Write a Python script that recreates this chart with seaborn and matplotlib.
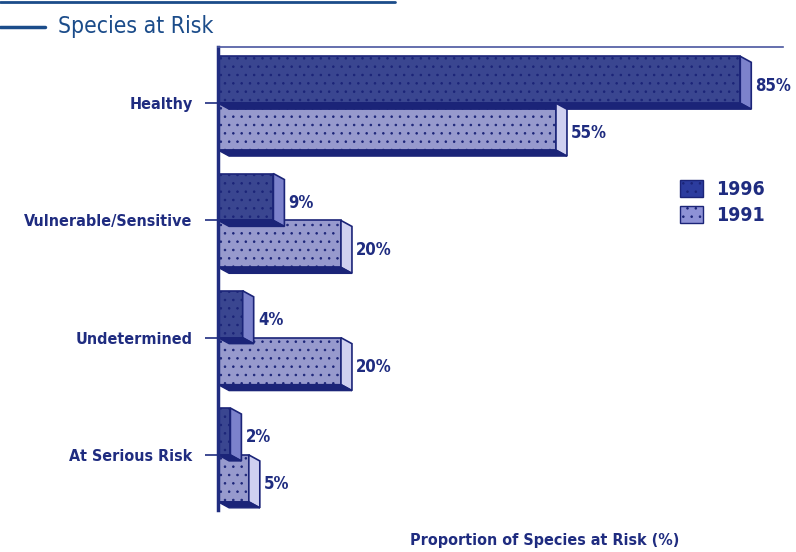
import matplotlib
matplotlib.use("Agg")
import matplotlib.pyplot as plt
from matplotlib.patches import Polygon, Patch
from matplotlib.lines import Line2D
from matplotlib import font_manager
import seaborn as sns
import pandas as pd

categories = ["Healthy", "Vulnerable/Sensitive", "Undetermined", "At Serious Risk"]
years = ["1996", "1991"]
pct_1996 = [85, 9, 4, 2]
pct_1991 = [55, 20, 20, 5]

NAVY = "#1f2c80"
TITLE_BLUE = "#1b4c8a"
DARK = "#2c3c9e"
LIGHT = "#8e92d6"
DARK_SIDE = "#7c82cc"
LIGHT_SIDE = "#cfd0f0"
EDGE = "#1b2478"

sns.set_theme(style="white")
names = {f.name for f in font_manager.fontManager.ttflist}
narrow = [n for n in ["Liberation Sans Narrow", "DejaVu Sans"] if n in names]
plt.rcParams["font.family"] = narrow + ["DejaVu Sans"]
plt.rcParams["font.stretch"] = "condensed"
plt.rcParams["hatch.linewidth"] = 0.6

df = pd.DataFrame({
    "status": categories * 2,
    "pct": pct_1996 + pct_1991,
    "year": [years[0]] * len(categories) + [years[1]] * len(categories),
})

fig = plt.figure(figsize=(7.96, 5.52), dpi=100)
ax = fig.add_axes([0.274, 0.076, 0.71, 0.839])

sns.barplot(data=df, y="status", x="pct", hue="year", hue_order=years,
            order=categories, palette=[DARK, LIGHT], orient="h", width=0.8,
            edgecolor=EDGE, linewidth=1.2, legend=False, ax=ax)

ax.set_xlim(0, 92)
ax.set_ylim(3.47, -0.48)

fig.canvas.draw()
p0 = ax.transData.transform((0, 0))
p1 = ax.transData.transform((1, 1))
ppx = p1[0] - p0[0]
ppy = abs(p1[1] - p0[1])
dx = 11 / ppx
dy = 6 / ppy

bars = [p for p in ax.patches if p.get_width() > 0]
for bar in bars:
    x0 = bar.get_x()
    y0 = bar.get_y()
    w = bar.get_width()
    h = bar.get_height()
    x1 = x0 + w
    ytop, ybot = min(y0, y0 + h), max(y0, y0 + h)
    fc = bar.get_facecolor()
    side_col = DARK_SIDE if fc[0] < 0.3 else LIGHT_SIDE
    bar.set_hatch("..")
    # right-hand face of the extruded bar
    ax.add_patch(Polygon([(x1, ytop), (x1 + dx, ytop + dy), (x1 + dx, ybot + dy), (x1, ybot)],
                         closed=True, facecolor=side_col, edgecolor=EDGE, lw=1.2, zorder=1))
    # lower face of the extruded bar
    ax.add_patch(Polygon([(x0, ybot), (x1, ybot), (x1 + dx, ybot + dy), (x0 + dx, ybot + dy)],
                         closed=True, facecolor=EDGE, edgecolor=EDGE, lw=1.0, zorder=1))
    ax.annotate(f"{w:g}%", xy=(x1 + dx, (ytop + ybot) / 2 + dy), xytext=(3, 0),
                textcoords="offset points", ha="left", va="center",
                fontsize=12, fontweight="bold", color=NAVY)

ax.set_xlabel("")
ax.set_ylabel("")
ax.set_xticks([])
ax.tick_params(axis="y", left=True, length=9.5, width=1.2, color=NAVY, pad=9,
               labelsize=11.5, labelcolor=NAVY)
for lbl in ax.get_yticklabels():
    lbl.set_fontweight("bold")

for side in ["right", "bottom"]:
    ax.spines[side].set_visible(False)
ax.spines["left"].set_color(NAVY)
ax.spines["left"].set_linewidth(2.5)
ax.spines["top"].set_color("#4a56a0")
ax.spines["top"].set_linewidth(1.2)

handles = [Patch(facecolor=DARK, edgecolor=EDGE, hatch="..", label="1996"),
           Patch(facecolor=LIGHT, edgecolor=EDGE, hatch="..", label="1991")]
leg = fig.legend(handles=handles, loc="upper left", bbox_to_anchor=(662 / 796, 1 - 162 / 552),
                 frameon=False, handlelength=1.2, handleheight=1.0, handletextpad=0.7,
                 labelspacing=0.35, prop={"size": 14, "weight": "bold", "stretch": "condensed"})
for t in leg.get_texts():
    t.set_color(NAVY)

fig.text(545 / 796, 1 - 540 / 552, "Proportion of Species at Risk (%)", ha="center", va="center",
         fontsize=11.5, fontweight="bold", color=NAVY)

fig.text(58 / 796, 1 - 26 / 552, "Species at Risk", ha="left", va="center",
         fontsize=16.5, color=TITLE_BLUE)
fig.add_artist(Line2D([0, 45 / 796], [1 - 27 / 552, 1 - 27 / 552], color=TITLE_BLUE, lw=2.5))
fig.add_artist(Line2D([0, 395 / 796], [1 - 1.5 / 552, 1 - 1.5 / 552], color=TITLE_BLUE, lw=2))

fig.savefig("out.png", dpi=100)
